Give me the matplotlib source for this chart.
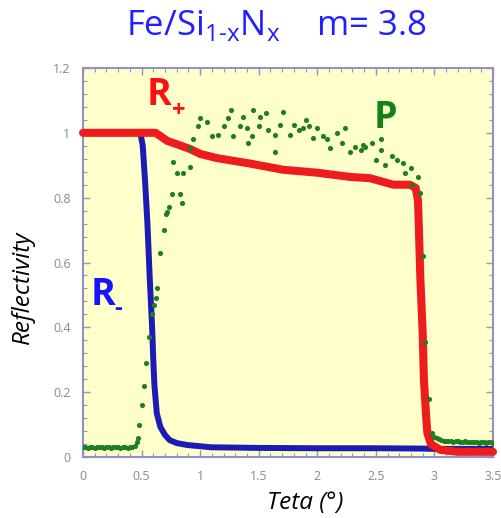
import matplotlib
matplotlib.use("Agg")
import matplotlib.pyplot as plt
from matplotlib.ticker import MultipleLocator, FormatStrFormatter

plt.rcParams["font.family"] = ["Open Sans", "DejaVu Sans"]
plt.rcParams["mathtext.fontset"] = "custom"
plt.rcParams["mathtext.rm"] = "Open Sans"

# R- curve (blue)
rminus_x = [0.0, 0.49, 0.51, 0.53, 0.55, 0.57, 0.59, 0.60, 0.61, 0.63, 0.66,
            0.70, 0.74, 0.80, 0.89, 1.09, 1.5, 2.0, 2.5, 2.9, 3.0, 3.5]
rminus_y = [1.0, 1.0, 0.96, 0.85, 0.72, 0.55, 0.40, 0.30, 0.22, 0.135, 0.093,
            0.068, 0.052, 0.043, 0.037, 0.030, 0.028, 0.027, 0.027, 0.026, 0.025, 0.025]

# R+ curve (red)
rplus_x = [0.0, 0.62, 0.66, 0.72, 0.80, 0.915, 1.0, 1.145, 1.43, 1.71, 2.0,
           2.28, 2.45, 2.55, 2.65, 2.79, 2.84, 2.86, 2.88, 2.90, 2.91, 2.93,
           2.94, 2.97, 3.05, 3.2, 3.5]
rplus_y = [1.0, 1.0, 0.99, 0.975, 0.965, 0.95, 0.935, 0.922, 0.905, 0.886, 0.877,
           0.864, 0.86, 0.85, 0.84, 0.84, 0.83, 0.79, 0.55, 0.38, 0.24, 0.12,
           0.074, 0.04, 0.022, 0.016, 0.016]

# P (green points)
pol_x = [0.00, 0.02, 0.04, 0.06, 0.08, 0.10, 0.12, 0.14, 0.16, 0.18, 0.20,
         0.22, 0.24, 0.26, 0.28, 0.30, 0.32, 0.34, 0.36, 0.38, 0.40, 0.42, 0.44,
         0.46, 0.47, 0.48, 0.50, 0.52, 0.54, 0.56, 0.59, 0.61, 0.62, 0.63,
         0.66, 0.69, 0.71, 0.72, 0.73, 0.76, 0.77, 0.80, 0.83, 0.845, 0.855,
         0.915, 0.915, 0.94, 0.98, 1.00, 1.06, 1.10, 1.15, 1.20, 1.24, 1.26,
         1.28, 1.34, 1.37, 1.40, 1.41, 1.44, 1.45, 1.50, 1.51, 1.56, 1.58,
         1.64, 1.64, 1.68, 1.71, 1.77, 1.80, 1.84, 1.88, 1.90, 1.93, 1.96,
         2.00, 2.05, 2.08, 2.11, 2.17, 2.21, 2.24, 2.28, 2.32, 2.37, 2.39,
         2.41, 2.47, 2.50, 2.54, 2.54, 2.58, 2.64, 2.68, 2.73, 2.75, 2.80,
         2.81, 2.86, 2.88, 2.90, 2.92, 2.95, 2.98,
         3.00, 3.02, 3.04, 3.06, 3.08, 3.10, 3.12, 3.14, 3.16, 3.18, 3.20,
         3.22, 3.24, 3.26, 3.28, 3.30, 3.32, 3.34, 3.36, 3.38, 3.40, 3.42,
         3.44, 3.46, 3.48, 3.50]
pol_y = [0.03, 0.03, 0.029, 0.03, 0.03, 0.028, 0.03, 0.031, 0.03, 0.029, 0.03,
         0.03, 0.028, 0.03, 0.03, 0.031, 0.029, 0.03, 0.03, 0.028, 0.03, 0.031, 0.033,
         0.045, 0.06, 0.10, 0.16, 0.22, 0.29, 0.37, 0.44, 0.47, 0.49, 0.52,
         0.63, 0.70, 0.75, 0.756, 0.77, 0.81, 0.91, 0.877, 0.81, 0.784, 0.877,
         0.895, 0.954, 0.98, 1.02, 1.046, 1.034, 0.99, 0.994, 1.02, 1.046, 1.07,
         0.99, 1.02, 1.05, 1.015, 0.97, 0.99, 1.07, 1.02, 1.05, 1.06, 1.01,
         0.994, 0.94, 1.025, 1.065, 0.994, 1.025, 1.01, 1.015, 1.04, 1.02, 0.985,
         1.015, 0.99, 0.98, 0.954, 1.0, 0.97, 1.015, 0.94, 0.957, 0.948, 0.963,
         0.957, 0.97, 0.917, 0.98, 0.948, 0.90, 0.93, 0.917, 0.907, 0.877, 0.89,
         0.84, 0.864, 0.815, 0.62, 0.355, 0.18, 0.074,
         0.062, 0.058, 0.055, 0.052, 0.05, 0.05, 0.048, 0.05, 0.047, 0.048, 0.05,
         0.047, 0.046, 0.048, 0.046, 0.045, 0.047, 0.046, 0.045, 0.044, 0.046, 0.045,
         0.044, 0.046, 0.045, 0.044]

x_ticks = [0, 0.5, 1, 1.5, 2, 2.5, 3, 3.5]
y_ticks = [0, 0.2, 0.4, 0.6, 0.8, 1.0, 1.2]

frame_col = "#9090cc"
fig = plt.figure(figsize=(5.01, 5.18), dpi=100)
ax = fig.add_axes([83 / 501, 61 / 518, 410 / 501, 389 / 518])
ax.set_facecolor("#ffffcc")

ax.plot(rminus_x, rminus_y, color="#1c1cb4", lw=4.3, solid_capstyle="round", zorder=3)
ax.plot(rplus_x, rplus_y, color="#ee1c1c", lw=5.8, solid_capstyle="round", zorder=4,
        clip_on=False)
ax.plot(pol_x, pol_y, "o", color="#1f7f1f", ms=3.7, mec="none", zorder=5)

ax.set_xlim(0, 3.5)
ax.set_ylim(0, 1.2)
ax.set_xticks(x_ticks)
ax.set_yticks(y_ticks)
ax.xaxis.set_major_formatter(FormatStrFormatter("%g"))
ax.yaxis.set_major_formatter(FormatStrFormatter("%g"))
ax.xaxis.set_minor_locator(MultipleLocator(0.1))
ax.yaxis.set_minor_locator(MultipleLocator(0.04))
ax.tick_params(which="both", direction="in", top=True, right=True,
               color=frame_col, labelcolor="#8a8a8a", labelsize=9)
ax.tick_params(which="major", length=5, width=1, pad=9)
ax.tick_params(which="minor", length=3, width=0.8)
for s in ax.spines.values():
    s.set_color(frame_col)
    s.set_linewidth(1.5)

ax.set_xlabel("Teta (°)", style="italic", fontsize=17.5)
ax.set_ylabel("Reflectivity", style="italic", fontsize=17.5)
ax.xaxis.set_label_coords(0.541, -0.118)
ax.yaxis.set_label_coords(-0.146, 0.437)
ax.xaxis.label.set_va("center")
ax.yaxis.label.set_va("center")

# curve labels
ax.text(0.545, 1.086, "R", color="#ff1010", fontsize=27, fontweight="bold")
ax.text(0.76, 1.049, "+", color="#ff1010", fontsize=17, fontweight="bold")
ax.text(2.48, 1.015, "P", color="#168016", fontsize=27, fontweight="bold")
ax.text(0.065, 0.469, "R", color="#1414ff", fontsize=27, fontweight="bold")
ax.text(0.27, 0.438, "-", color="#1414ff", fontsize=17, fontweight="bold")

fig.text(0.551, 0.932, r"Fe/Si$_\mathrm{1\text{-}x}$N$_\mathrm{x}$    m= 3.8",
         color="#1f1fff", fontsize=25, ha="center", va="baseline")

fig.savefig("out.png", dpi=100)
